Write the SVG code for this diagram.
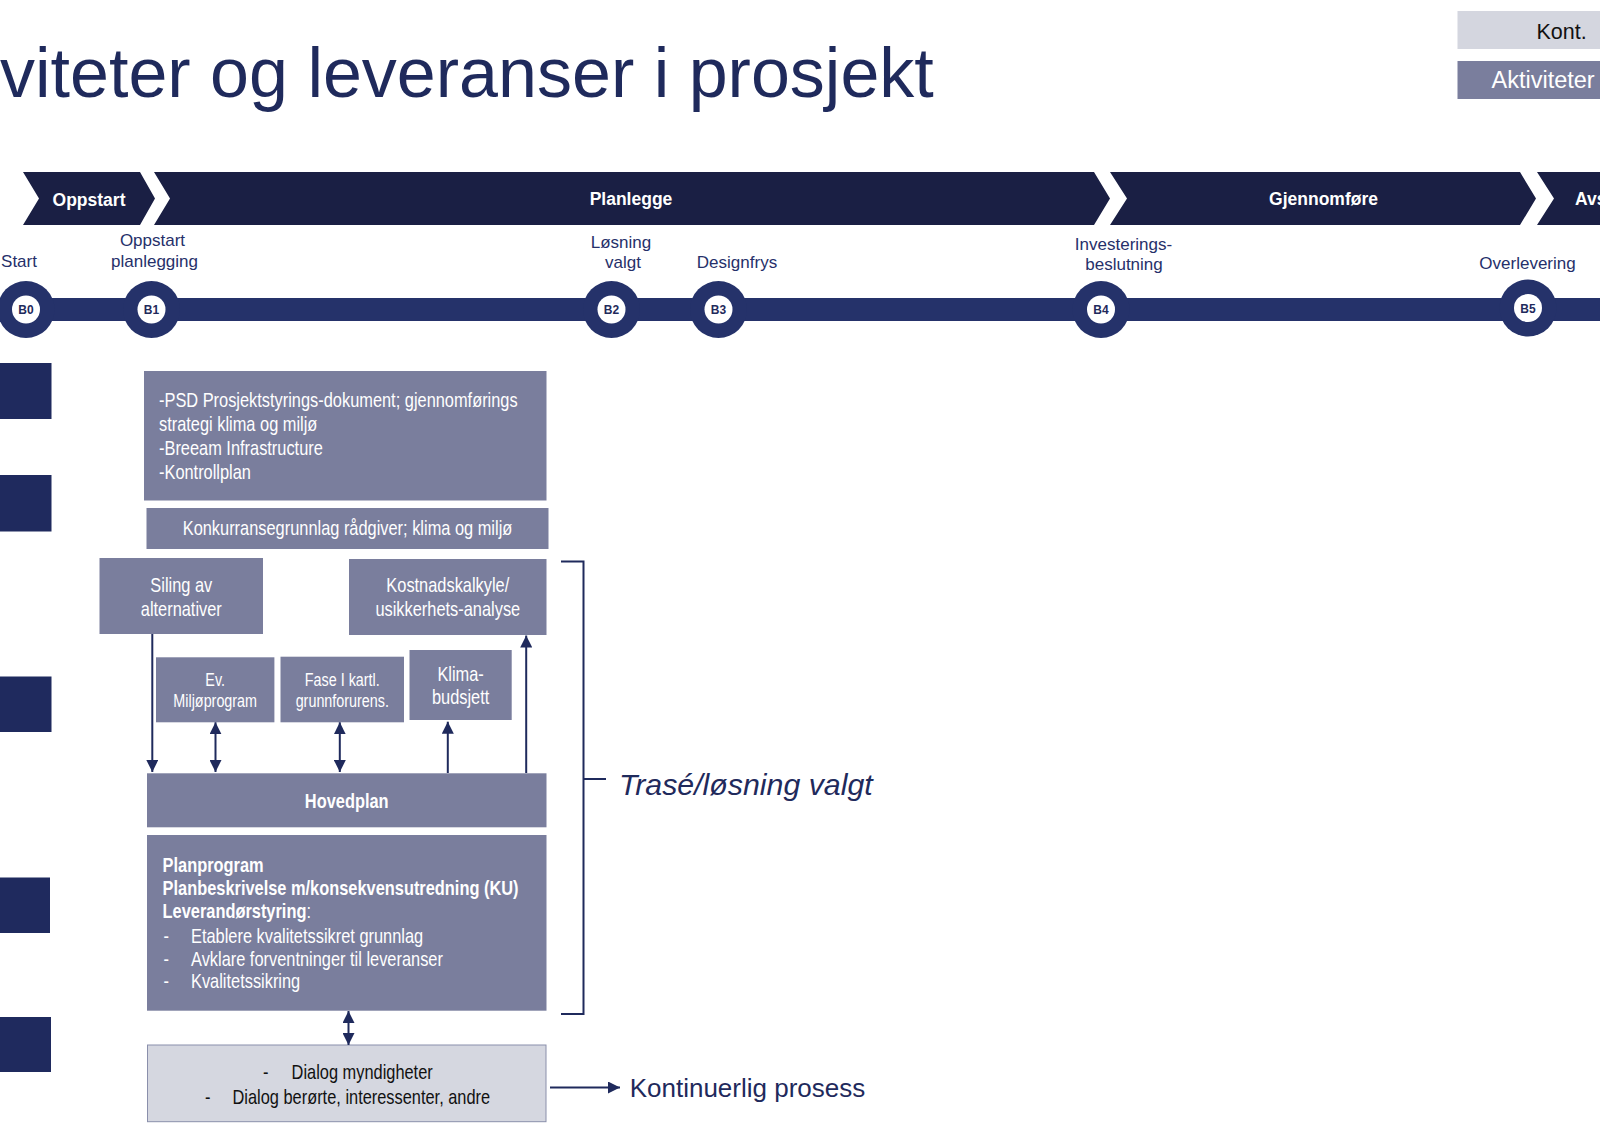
<svg xmlns="http://www.w3.org/2000/svg" width="1600" height="1141" viewBox="0 0 1600 1141">
<defs>
<style>
.title{font-family:'Liberation Sans',Arial,sans-serif;font-size:70px;fill:#1f2a5c}
.chev{fill:#1a1f44}
.chevt{font-family:'Liberation Sans',Arial,sans-serif;font-weight:bold;font-size:17.5px;fill:#fff;text-anchor:middle}
.ms{font-family:'Liberation Sans',Arial,sans-serif;font-size:17px;fill:#26306a;text-anchor:middle}
.bar{fill:#25326a}
.mlabel{font-family:'Liberation Sans',Arial,sans-serif;font-weight:bold;font-size:12px;fill:#1f2a5c;text-anchor:middle}
.sq{fill:#1f2a5e}
.box{fill:#7a7e9d}
.bt{font-family:'Liberation Sans',Arial,sans-serif;font-size:20px;fill:#fff}
.bs{font-family:'Liberation Sans',Arial,sans-serif;font-size:17.5px;fill:#fff}
.c{text-anchor:middle}
.b{font-weight:bold}
.dt{font-family:'Liberation Sans',Arial,sans-serif;font-size:20px;fill:#111}
.conn{stroke:#1f2a5c;stroke-width:2;fill:none}
.big{font-family:'Liberation Sans',Arial,sans-serif;fill:#1f2a5c}
</style>
<marker id="ah" markerUnits="userSpaceOnUse" markerWidth="12" markerHeight="12" refX="12" refY="6" orient="auto-start-reverse">
<path d="M0,0 L12,6 L0,12 Z" fill="#1f2a5c"/>
</marker>
</defs>
<rect width="1600" height="1141" fill="#fff"/>

<text class="title" x="0" y="97">viteter og leveranser i prosjekt</text>

<g id="legend-kont">
<rect x="1457.5" y="11" width="143" height="38" fill="#d4d6df"/>
<text x="1536.5" y="38.5" font-family="'Liberation Sans',Arial,sans-serif" font-size="21.5" fill="#111">Kont.</text>
</g>
<g id="legend-akt">
<rect x="1457.5" y="61" width="143" height="38" fill="#7a7e9d"/>
<text x="1491.5" y="88" font-family="'Liberation Sans',Arial,sans-serif" font-size="23.5" fill="#fff">Aktiviteter</text>
</g>

<g id="phase-oppstart">
<path class="chev" d="M23,172 L140,172 L155,198.5 L140,225 L23,225 L39,198.5 Z"/>
<text class="chevt" x="89" y="205.5">Oppstart</text>
</g>
<g id="phase-planlegge">
<path class="chev" d="M154,172 L1094,172 L1110,198.5 L1094,225 L154,225 L170,198.5 Z"/>
<text class="chevt" x="631" y="204.5">Planlegge</text>
</g>
<g id="phase-gjennomfore">
<path class="chev" d="M1110,172 L1520,172 L1536,198.5 L1520,225 L1110,225 L1127,198.5 Z"/>
<text class="chevt" x="1323.5" y="204.5">Gjennomføre</text>
</g>
<g id="phase-avs">
<path class="chev" d="M1537,172 L1600,172 L1600,225 L1537,225 L1554,198.5 Z"/>
<text x="1575" y="205" font-family="'Liberation Sans',Arial,sans-serif" font-weight="bold" font-size="17.5" fill="#fff">Avs</text>
</g>

<rect class="bar" x="0" y="298" width="1600" height="23"/>

<g id="B0">
<circle class="bar" cx="26" cy="309.5" r="28.5"/>
<circle cx="26" cy="309.5" r="14" fill="#fff"/>
<text class="mlabel" x="26" y="314">B0</text>
<text class="ms" x="19" y="266.5">Start</text>
</g>
<g id="B1">
<circle class="bar" cx="151.5" cy="309.5" r="28.5"/>
<circle cx="151.5" cy="309.5" r="14" fill="#fff"/>
<text class="mlabel" x="151.5" y="314">B1</text>
<text class="ms" x="152.5" y="246">Oppstart</text>
<text class="ms" x="154.5" y="266.5">planlegging</text>
</g>
<g id="B2">
<circle class="bar" cx="611.5" cy="309.5" r="28.5"/>
<circle cx="611.5" cy="309.5" r="14" fill="#fff"/>
<text class="mlabel" x="611.5" y="314">B2</text>
<text class="ms" x="621" y="247.5">Løsning</text>
<text class="ms" x="623" y="268">valgt</text>
</g>
<g id="B3">
<circle class="bar" cx="718.5" cy="309.5" r="28.5"/>
<circle cx="718.5" cy="309.5" r="14" fill="#fff"/>
<text class="mlabel" x="718.5" y="314">B3</text>
<text class="ms" x="737" y="268">Designfrys</text>
</g>
<g id="B4">
<circle class="bar" cx="1101" cy="309.5" r="28.5"/>
<circle cx="1101" cy="309.5" r="14" fill="#fff"/>
<text class="mlabel" x="1101" y="314">B4</text>
<text class="ms" x="1123.5" y="249.5">Investerings-</text>
<text class="ms" x="1124" y="270">beslutning</text>
</g>
<g id="B5">
<circle class="bar" cx="1528" cy="308" r="28.5"/>
<circle cx="1528" cy="308" r="14" fill="#fff"/>
<text class="mlabel" x="1528" y="312.5">B5</text>
<text class="ms" x="1527.5" y="269">Overlevering</text>
</g>

<g id="row-markers">
<rect class="sq" x="0" y="363" width="51.5" height="56"/>
<rect class="sq" x="0" y="475" width="51.5" height="56.5"/>
<rect class="sq" x="0" y="676.5" width="51.5" height="55.5"/>
<rect class="sq" x="0" y="877.5" width="50" height="55.5"/>
<rect class="sq" x="0" y="1017" width="51" height="55"/>
</g>

<g id="psd">
<rect class="box" x="144" y="371" width="402.5" height="129.5"/>
<text class="bt" transform="translate(159,406.5) scale(0.82,1)">-PSD Prosjektstyrings-dokument; gjennomførings</text>
<text class="bt" transform="translate(159,430.5) scale(0.82,1)">strategi klima og miljø</text>
<text class="bt" transform="translate(159,454.5) scale(0.82,1)">-Breeam Infrastructure</text>
<text class="bt" transform="translate(159,478.5) scale(0.82,1)">-Kontrollplan</text>
</g>
<g id="konkurranse">
<rect class="box" x="146.5" y="508" width="402" height="41"/>
<text class="bt c" transform="translate(347.5,535) scale(0.82,1)">Konkurransegrunnlag rådgiver; klima og miljø</text>
</g>
<g id="siling">
<rect class="box" x="99.5" y="558" width="163.5" height="76"/>
<text class="bt c" transform="translate(181.3,592.3) scale(0.82,1)">Siling av</text>
<text class="bt c" transform="translate(181.3,615.7) scale(0.82,1)">alternativer</text>
</g>
<g id="kostnad">
<rect class="box" x="349" y="559" width="197.5" height="76"/>
<text class="bt c" transform="translate(447.8,592.3) scale(0.82,1)">Kostnadskalkyle/</text>
<text class="bt c" transform="translate(447.8,615.7) scale(0.82,1)">usikkerhets-analyse</text>
</g>
<g id="miljoprogram">
<rect class="box" x="156" y="657.3" width="118.4" height="65"/>
<text class="bs c" transform="translate(215.2,686) scale(0.82,1)">Ev.</text>
<text class="bs c" transform="translate(215.2,706.7) scale(0.82,1)">Miljøprogram</text>
</g>
<g id="fase">
<rect class="box" x="280.5" y="656.7" width="123.5" height="65.6"/>
<text class="bs c" transform="translate(342.3,686) scale(0.82,1)">Fase I kartl.</text>
<text class="bs c" transform="translate(342.3,706.7) scale(0.82,1)">grunnforurens.</text>
</g>
<g id="klimabudsjett">
<rect class="box" x="409.5" y="650" width="102.2" height="70"/>
<text class="bt c" transform="translate(460.6,681) scale(0.82,1)">Klima-</text>
<text class="bt c" transform="translate(460.6,704) scale(0.82,1)">budsjett</text>
</g>
<g id="hovedplan">
<rect class="box" x="147" y="773.3" width="399.5" height="54"/>
<text class="bt c b" transform="translate(346.7,808.3) scale(0.82,1)">Hovedplan</text>
</g>
<g id="planprogram">
<rect class="box" x="147" y="835" width="399.5" height="175.7"/>
<text class="bt b" transform="translate(162.6,871.7) scale(0.82,1)">Planprogram</text>
<text class="bt b" transform="translate(162.6,895) scale(0.82,1)">Planbeskrivelse m/konsekvensutredning (KU)</text>
<text class="bt" transform="translate(162.6,918.3) scale(0.82,1)"><tspan font-weight="bold">Leverandørstyring</tspan>:</text>
<text class="bt" transform="translate(163.5,943.3) scale(0.82,1)">-</text>
<text class="bt" transform="translate(191,943.3) scale(0.82,1)">Etablere kvalitetssikret grunnlag</text>
<text class="bt" transform="translate(163.5,965.8) scale(0.82,1)">-</text>
<text class="bt" transform="translate(191,965.8) scale(0.82,1)">Avklare forventninger til leveranser</text>
<text class="bt" transform="translate(163.5,988.3) scale(0.82,1)">-</text>
<text class="bt" transform="translate(191,988.3) scale(0.82,1)">Kvalitetssikring</text>
</g>
<g id="dialog">
<rect x="147.5" y="1045" width="398.5" height="76.7" fill="#d5d7e0" stroke="#8a8fab" stroke-width="1"/>
<text class="dt" transform="translate(263,1079) scale(0.82,1)">-</text>
<text class="dt" transform="translate(291.6,1079) scale(0.82,1)">Dialog myndigheter</text>
<text class="dt" transform="translate(205,1103.5) scale(0.82,1)">-</text>
<text class="dt" transform="translate(232.5,1103.5) scale(0.82,1)">Dialog berørte, interessenter, andre</text>
</g>

<g id="connectors">
<line class="conn" x1="152.3" y1="634" x2="152.3" y2="772" marker-end="url(#ah)"/>
<line class="conn" x1="215.5" y1="722.3" x2="215.5" y2="772" marker-start="url(#ah)" marker-end="url(#ah)"/>
<line class="conn" x1="339.8" y1="722.3" x2="339.8" y2="772" marker-start="url(#ah)" marker-end="url(#ah)"/>
<line class="conn" x1="447.8" y1="773" x2="447.8" y2="721.7" marker-end="url(#ah)"/>
<line class="conn" x1="526.2" y1="773" x2="526.2" y2="635.5" marker-end="url(#ah)"/>
<line class="conn" x1="348.5" y1="1011" x2="348.5" y2="1045" marker-start="url(#ah)" marker-end="url(#ah)"/>
<line class="conn" x1="550" y1="1087.5" x2="620" y2="1087.5" marker-end="url(#ah)"/>
<path class="conn" d="M561,561.5 H583.5 V1014 H561"/>
<line class="conn" x1="583.5" y1="779" x2="606" y2="779"/>
</g>

<g id="label-trase">
<text class="big" x="619" y="795" font-size="30.3" font-style="italic">Trasé/løsning valgt</text>
</g>
<g id="label-kontinuerlig">
<text class="big" x="629.7" y="1097" font-size="26">Kontinuerlig prosess</text>
</g>
</svg>
